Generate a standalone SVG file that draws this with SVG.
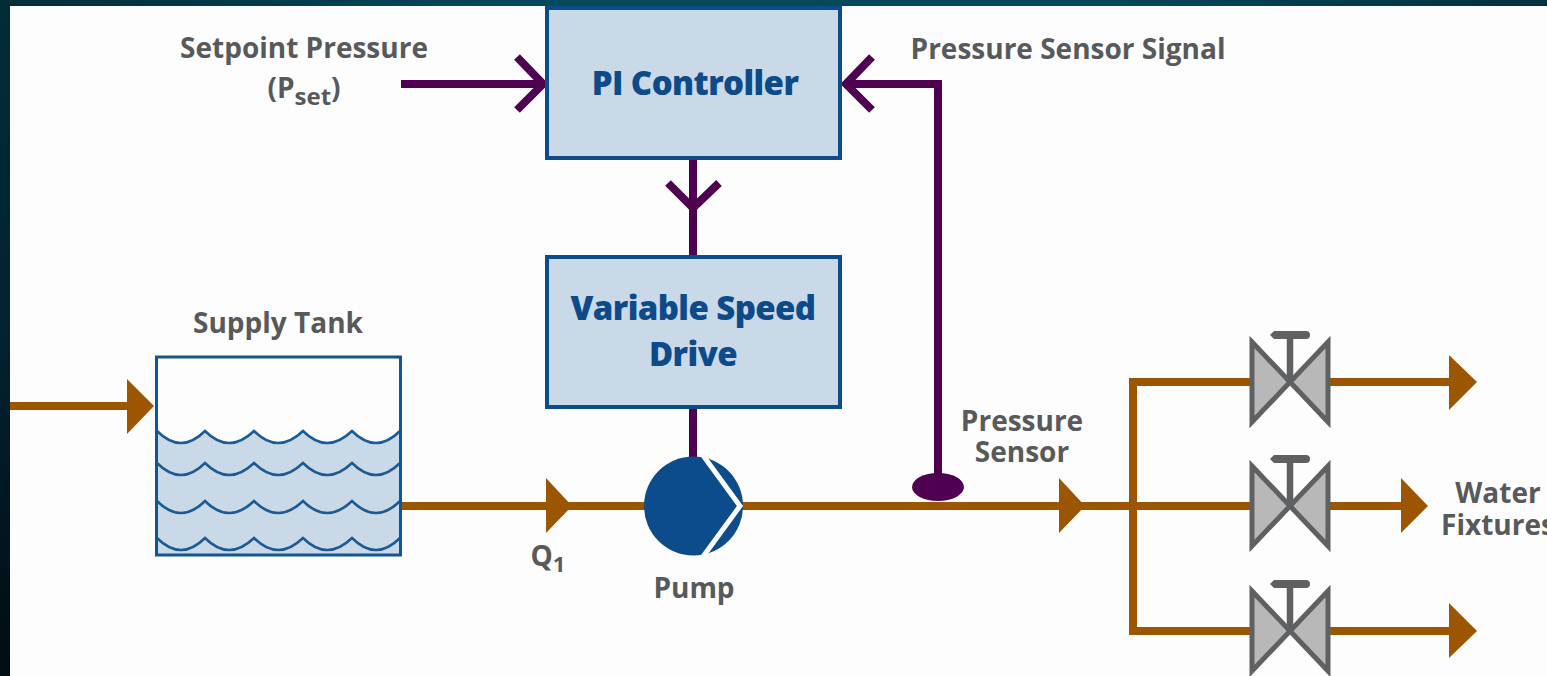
<svg xmlns="http://www.w3.org/2000/svg" width="1547" height="676" viewBox="0 0 1547 676">
<defs>
<linearGradient id="bg" x1="0" y1="0" x2="1" y2="0"><stop offset="0" stop-color="#032c38"/><stop offset="0.35" stop-color="#044a5c"/><stop offset="0.7" stop-color="#03495a"/><stop offset="1" stop-color="#03303f"/></linearGradient>
<linearGradient id="side" x1="0" y1="0" x2="0" y2="1"><stop offset="0" stop-color="#032c38"/><stop offset="0.5" stop-color="#02222f"/><stop offset="1" stop-color="#010c14"/></linearGradient>
<path id="wave" d="M157 0Q181 24 205 0Q229 24 254 0Q278 24 303 0Q327 24 352 0Q376 24 400 0"/>
<g id="valve"><path class="vb" d="M-38 -40L38 40V-40L-38 40Z"/><path class="vs" d="M0 0V-46"/><path class="vh" d="M-20 -47L-16 -51H16Q20 -51 20 -47Q20 -43 16 -43H-16Z"/></g>
</defs>
<style>
.lab{font-family:"Open Sans","Liberation Sans",sans-serif;font-weight:700;font-size:28px;fill:#58595b;text-anchor:middle}
.box{font-family:"Open Sans","Liberation Sans",sans-serif;font-weight:800;font-size:33px;letter-spacing:-0.6px;fill:#0d4a8a;text-anchor:middle}
.block{fill:#c9d9e8;stroke:#0d4c8a;stroke-width:4}
.pipe{fill:none;stroke:#9c5500;stroke-width:8}
.head{fill:#9c5500}
.sig{fill:none;stroke:#4f0050;stroke-width:8}
.wv{fill:none;stroke:#1b5a94;stroke-width:2.500}
.vb{fill:#b8b8b8;stroke:#5f6062;stroke-width:5}
.vs{fill:none;stroke:#5f6062;stroke-width:6.500}
.vh{fill:#5f6062}
</style>
<rect width="1547" height="676" fill="url(#bg)"/>
<rect x="0" y="6" width="10" height="670" fill="url(#side)"/>
<rect x="10" y="6" width="1537" height="670" fill="#fdfdfd"/>
<g id="connectors">
<path class="sig" d="M401 84H541M517 57L543 84L517 110"/>
<path class="sig" d="M938 480V84H848M872 57L846 84L872 110"/>
<path class="sig" d="M693 158V257M668 183L693 208L719 183"/>
<path class="sig" d="M693 407V460"/>
<path class="pipe" d="M10 406H130"/><path class="head" d="M127 379L154 406L127 434Z"/>
<path class="pipe" d="M401 506H646"/><path class="head" d="M546 478L572 506L546 533Z"/>
<path class="pipe" d="M742 506H1250"/><path class="head" d="M1059 478L1085 506L1059 533Z"/>
<path class="pipe" d="M1250 382H1133V631H1250"/>
<path class="pipe" d="M1330 382H1452"/><path class="head" d="M1449 355L1477 382L1449 410Z"/>
<path class="pipe" d="M1330 506H1404"/><path class="head" d="M1401 478L1428 506L1401 533Z"/>
<path class="pipe" d="M1330 631H1452"/><path class="head" d="M1449 603L1477 631L1449 658Z"/>
</g>
<g id="pi-controller"><rect class="block" x="547" y="8" width="293" height="150"/><text class="box" x="695" y="95">PI Controller</text></g>
<g id="vsd"><rect class="block" x="547" y="257" width="293" height="150"/><text class="box" x="693" y="320">Variable Speed</text><text class="box" x="693" y="366">Drive</text></g>
<g id="setpoint"><text class="lab" x="304" y="58">Setpoint Pressure</text><text class="lab" x="304" y="98">(P<tspan font-size="24" dy="7">set</tspan><tspan dy="-7">)</tspan></text></g>
<g id="sensor-signal"><text class="lab" x="1068" y="59">Pressure Sensor Signal</text></g>
<g id="tank">
<text class="lab" x="278" y="333">Supply Tank</text>
<path fill="#c9d9e8" d="M157 431Q181 455 205 431Q229 455 254 431Q278 455 303 431Q327 455 352 431Q376 455 400 431V555H157Z"/>
<use href="#wave" class="wv" y="431"/><use href="#wave" class="wv" y="463"/><use href="#wave" class="wv" y="501"/><use href="#wave" class="wv" y="538"/>
<rect x="156.500" y="357" width="244" height="198" fill="none" stroke="#14548f" stroke-width="3"/>
</g>
<g id="q1"><text class="lab" x="548" y="566">Q<tspan font-size="22" dy="6">1</tspan></text></g>
<g id="pump">
<circle cx="693.500" cy="506" r="49.500" fill="#0d4c8a"/>
<path d="M702 454L740 506L702 558" fill="none" stroke="#fdfdfd" stroke-width="5"/>
<text class="lab" x="694" y="598">Pump</text>
</g>
<g id="sensor">
<ellipse cx="938" cy="487" rx="26" ry="14" fill="#4f0050"/>
<text class="lab" x="1022" y="431">Pressure</text><text class="lab" x="1022" y="462">Sensor</text>
</g>
<g id="valve-1"><use href="#valve" x="1290" y="382"/></g>
<g id="valve-2"><use href="#valve" x="1290" y="506"/></g>
<g id="valve-3"><use href="#valve" x="1290" y="631"/></g>
<g id="fixtures"><text class="lab" x="1498" y="503">Water</text><text class="lab" x="1498" y="535">Fixtures</text></g>
</svg>
